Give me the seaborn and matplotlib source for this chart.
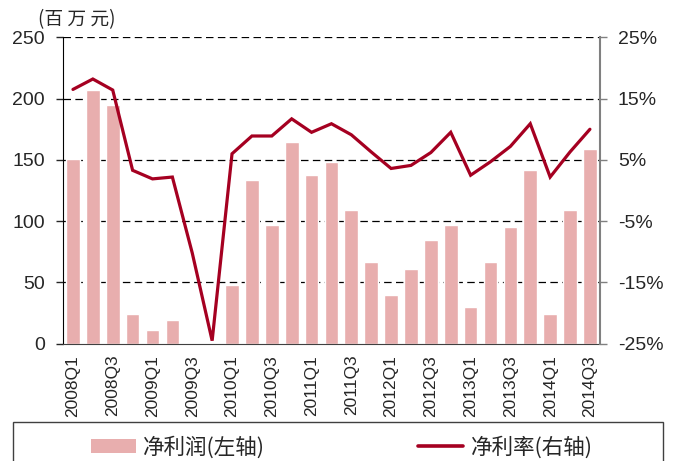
import numpy as np
import pandas as pd
import matplotlib
matplotlib.use("Agg")
from matplotlib import pyplot as plt
from matplotlib.patches import Rectangle, Patch
from matplotlib.lines import Line2D
import seaborn as sns

# Data
quarters = [f"{y}Q{q}" for y in range(2008, 2015) for q in range(1, 5)][:27]
net_profit = [151, 207, 195, 24, 11, 19, 0, 0, 48, 134, 97, 165, 138, 148,
              109, 67, 40, 61, 85, 97, 30, 67, 95, 142, 24, 109, 159]
net_margin = [16.5, 18.2, 16.4, 3.3, 1.9, 2.2, -10.2, -24.5, 6.0, 8.9, 8.9,
              11.7, 9.5, 10.9, 9.1, 6.3, 3.6, 4.1, 6.2, 9.5, 2.5, 4.7, 7.2,
              10.9, 2.2, 6.3, 10.0]
left_ticks = [0, 50, 100, 150, 200, 250]
right_ticks = [-25, -15, -5, 5, 15, 25]
legend_labels = ["净利润(左轴)", "净利率(右轴)"]

bar_color = "#E8AEAE"
line_color = "#A50021"

sns.set_style("white")
plt.rcParams["font.family"] = ["Liberation Sans", "DejaVu Sans"]
cjk = ["Noto Sans CJK SC", "DejaVu Sans"]

df = pd.DataFrame({"quarter": quarters, "profit": net_profit, "margin": net_margin})
df["pos"] = df.index

fig = plt.figure(figsize=(6.74, 4.61), dpi=100)
ax = fig.add_axes([0.0935, 0.2544, 0.7965, 0.6646])

# Bars: net profit (left axis)
sns.barplot(data=df, x="quarter", y="profit", color=bar_color, saturation=1.0,
            width=0.69, ax=ax, zorder=2)
ax.set_ylim(0, 250)
ax.set_yticks(left_ticks)
ax.set_axisbelow(True)
for v in left_ticks[1:]:
    ax.axhline(v, color="black", lw=0.9, dashes=(6, 3.5), zorder=0)

# Line: net margin (right axis)
ax2 = ax.twinx()
sns.lineplot(data=df, x="pos", y="margin", color=line_color, lw=2.3, ax=ax2,
             solid_joinstyle="miter", zorder=5)
ax2.set_ylim(-25, 25)
ax2.set_yticks(right_ticks)
ax2.set_yticklabels([f"{t}%" for t in right_ticks])
ax.set_xlim(-0.5, len(quarters) - 0.5)

# X ticks: labels every other quarter, tick marks at group boundaries
ax.set_xticks(df["pos"][::2])
ax.set_xticklabels(quarters[::2], rotation=90, fontsize=12.5)
ax.set_xticks(np.arange(-0.5, len(quarters), 2), minor=True)
ax.tick_params(axis="x", which="major", length=0, pad=8)
ax.tick_params(axis="x", which="minor", length=6, width=1, color="#404040",
               direction="out")
ax.tick_params(axis="y", labelsize=14, length=5, width=1, direction="out",
               pad=8, left=True)
ax2.tick_params(axis="y", labelsize=14, length=5, width=1, direction="out",
                pad=8, color="#808080", right=True)

for a in (ax, ax2):
    a.set_xlabel("")
    a.set_ylabel("")
    a.spines["top"].set_visible(False)
ax.spines["right"].set_visible(False)
ax.spines["left"].set_color("black")
ax.spines["bottom"].set_color("#404040")
ax2.spines["left"].set_visible(False)
ax2.spines["bottom"].set_visible(False)
ax2.spines["right"].set_color("#808080")
ax2.spines["right"].set_linewidth(1.5)

# Unit label
fig.text(0.056, 0.957, "(百 万 元)", fontsize=13.5, family=cjk, ha="left", va="center")

# Legend box at the bottom
fig.patches.append(Rectangle((0.0193, -0.02), 0.964, 0.1046, transform=fig.transFigure,
                             fill=False, edgecolor="#404040", lw=1))
handles = [Patch(facecolor=bar_color, edgecolor="none"),
           Line2D([], [], color=line_color, lw=2.6)]
fig.legend(handles, legend_labels, loc="center", bbox_to_anchor=(0.507, 0.03),
           ncol=2, frameon=False, handlelength=2.1, handleheight=0.65,
           handletextpad=0.35, columnspacing=7.1, prop={"family": cjk, "size": 15.5})

plt.savefig("out.png", dpi=100)
